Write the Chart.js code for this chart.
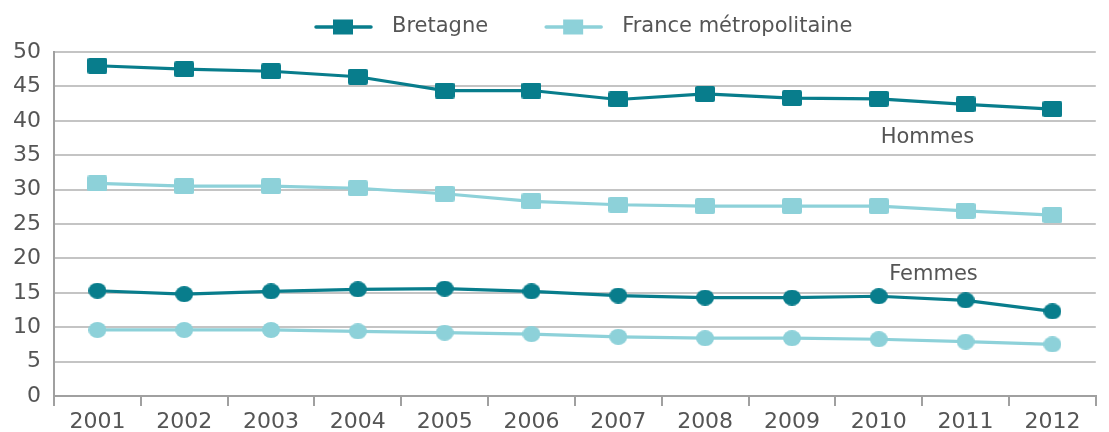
<!DOCTYPE html>
<html>
<head>
<meta charset="utf-8">
<script src="https://cdn.jsdelivr.net/npm/chart.js@4/dist/chart.umd.min.js"></script>
<style>
  html, body { margin: 0; padding: 0; background: #fff; }
  #wrap { width: 1109px; height: 432px; position: relative; }
</style>
</head>
<body>
<div id="wrap"><canvas id="chart"></canvas></div>
<script>
// data
const years = ['2001', '2002', '2003', '2004', '2005', '2006', '2007', '2008', '2009', '2010', '2011', '2012'];
const bretagneHommes = [48.0, 47.5, 47.2, 46.4, 44.4, 44.4, 43.1, 43.9, 43.3, 43.2, 42.4, 41.7];
const franceHommes = [30.9, 30.5, 30.5, 30.2, 29.4, 28.3, 27.8, 27.6, 27.6, 27.6, 26.9, 26.3];
const bretagneFemmes = [15.3, 14.8, 15.2, 15.5, 15.6, 15.2, 14.6, 14.3, 14.3, 14.5, 13.9, 12.3];
const franceFemmes = [9.6, 9.6, 9.6, 9.4, 9.2, 9.0, 8.6, 8.4, 8.4, 8.25, 7.9, 7.5];
const yTicks = [0, 5, 10, 15, 20, 25, 30, 35, 40, 45, 50];
const seriesNames = ['Bretagne', 'France métropolitaine'];
const groupLabels = ['Hommes', 'Femmes'];

const dark = '#087d8c';
const light = '#8dd1d9';
const textColor = '#555555';
const fontFamily = '"DejaVu Sans", sans-serif';

// point markers are a bit wider than tall in the original
function rectMarker(color, w, h) {
  const c = document.createElement('canvas');
  c.width = w;
  c.height = h;
  const ctx = c.getContext('2d');
  ctx.fillStyle = color;
  ctx.beginPath();
  ctx.roundRect(0, 0, w, h, 2);
  ctx.fill();
  return c;
}
function dotMarker(color, w, h) {
  const c = document.createElement('canvas');
  c.width = w;
  c.height = h;
  const ctx = c.getContext('2d');
  ctx.fillStyle = color;
  ctx.beginPath();
  ctx.ellipse(w / 2, h / 2, w / 2, h / 2, 0, 0, Math.PI * 2);
  ctx.fill();
  return c;
}

// legend: line + square, then text
const legendPlugin = {
  id: 'lineLegend',
  afterDraw(chart) {
    const ctx = chart.ctx;
    const colors = [dark, light];
    ctx.save();
    ctx.font = '21px ' + fontFamily;
    ctx.textBaseline = 'middle';
    ctx.textAlign = 'left';
    let x = 315;
    const y = 27;
    seriesNames.forEach((name, i) => {
      ctx.strokeStyle = colors[i];
      ctx.lineWidth = 3.5;
      ctx.lineCap = 'round';
      ctx.beginPath();
      ctx.moveTo(x + 1, y);
      ctx.lineTo(x + 56, y);
      ctx.stroke();
      ctx.fillStyle = colors[i];
      ctx.fillRect(x + 18, y - 7.5, 20, 15);
      ctx.fillStyle = textColor;
      ctx.fillText(name, x + 77, y);
      x += 77 + ctx.measureText(name).width + 57;
    });
    ctx.restore();
  }
};

// "Hommes" / "Femmes" text placed in data coordinates (category index, value)
const groupLabelPos = [
  { x: 9.56, y: 37.5 },
  { x: 9.63, y: 17.6 }
];
const groupLabelPlugin = {
  id: 'groupLabels',
  afterDatasetsDraw(chart) {
    const { ctx, scales } = chart;
    ctx.save();
    ctx.font = '21px ' + fontFamily;
    ctx.fillStyle = textColor;
    ctx.textAlign = 'center';
    ctx.textBaseline = 'middle';
    groupLabels.forEach((t, i) => {
      ctx.fillText(t, scales.x.getPixelForValue(groupLabelPos[i].x), scales.y.getPixelForValue(groupLabelPos[i].y));
    });
    ctx.restore();
  }
};

const common = { borderWidth: 3.2, tension: 0, pointRadius: 10 };

new Chart(document.getElementById('chart'), {
  type: 'line',
  data: {
    labels: years,
    datasets: [
      { ...common, label: seriesNames[0], data: bretagneHommes, borderColor: dark, backgroundColor: dark, pointStyle: rectMarker(dark, 20, 16) },
      { ...common, label: seriesNames[1], data: franceHommes, borderColor: light, backgroundColor: light, pointStyle: rectMarker(light, 20, 16) },
      { ...common, label: seriesNames[0], data: bretagneFemmes, borderColor: dark, backgroundColor: dark, pointStyle: dotMarker(dark, 18, 16) },
      { ...common, label: seriesNames[1], data: franceFemmes, borderColor: light, backgroundColor: light, pointStyle: dotMarker(light, 18, 16) }
    ]
  },
  options: {
    responsive: true,
    maintainAspectRatio: false,
    animation: false,
    layout: { padding: { left: 0, right: 2, top: 52, bottom: -6 } },
    plugins: {
      tooltip: { enabled: false },
      legend: { display: false }
    },
    scales: {
      x: {
        offset: true,
        grid: { offset: true, drawOnChartArea: false, drawTicks: true, tickLength: 10, color: '#a0a0a0', lineWidth: 2 },
        border: { color: '#a0a0a0', width: 2 },
        ticks: { color: textColor, font: { family: fontFamily, size: 22, lineHeight: 1 }, padding: 5, maxRotation: 0 }
      },
      y: {
        min: 0,
        max: 50,
        afterBuildTicks: (axis) => { axis.ticks = yTicks.map(v => ({ value: v })); },
        grid: { color: '#c4c4c4', lineWidth: 2, drawTicks: false },
        border: { color: '#a0a0a0', width: 2 },
        ticks: { color: textColor, font: { family: fontFamily, size: 22 }, padding: 13 }
      }
    }
  },
  plugins: [groupLabelPlugin, legendPlugin]
});
</script>
</body>
</html>
